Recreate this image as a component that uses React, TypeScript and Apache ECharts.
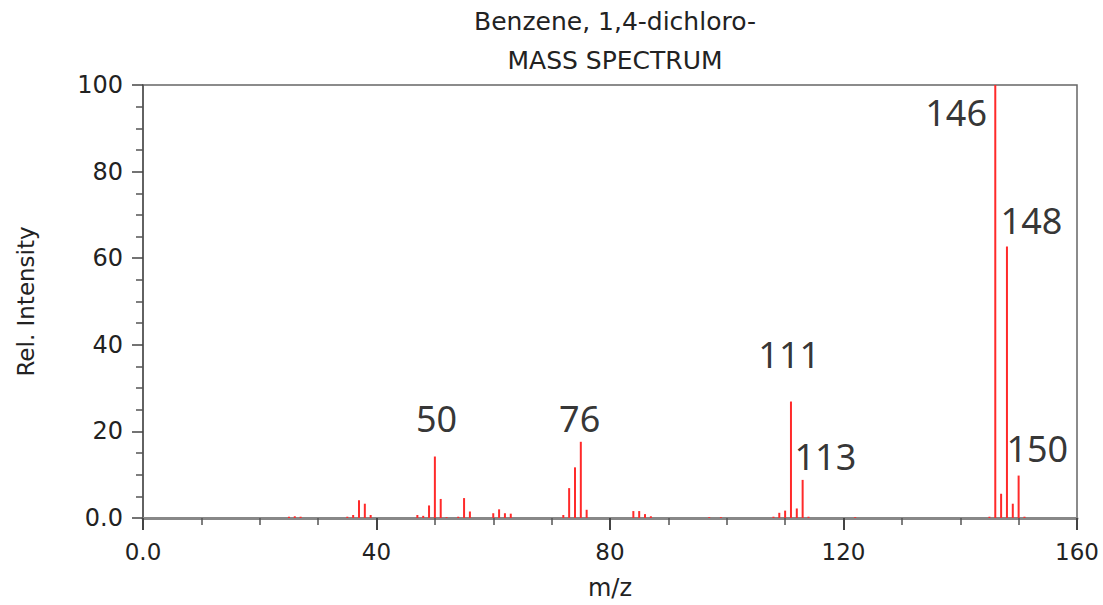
import React, { useEffect, useRef } from "react";
import * as echarts from "echarts";

const titleText = "Benzene, 1,4-dichloro-\nMASS SPECTRUM";
const xAxisName = "m/z";
const yAxisName = "Rel. Intensity";

const mzValues = [
  25, 26, 27,
  35, 36, 37, 38, 39,
  47, 48, 49, 50, 51, 52,
  54, 55, 56,
  60, 61, 62, 63,
  72, 73, 74, 75, 76,
  84, 85, 86, 87,
  97, 99,
  108, 109, 110, 111, 112, 113, 114,
  122,
  145, 146, 147, 148, 149, 150, 151,
];
const intensities = [
  0.3, 0.4, 0.3,
  0.3, 0.7, 4.1, 3.3, 0.7,
  0.7, 0.5, 2.9, 14.2, 4.4, 0.2,
  0.3, 4.6, 1.5,
  1.1, 2.0, 1.1, 1.0,
  0.7, 6.9, 11.7, 17.6, 1.9,
  1.6, 1.6, 0.9, 0.4,
  0.2, 0.2,
  0.3, 1.2, 1.7, 26.9, 2.2, 8.8, 0.3,
  0.2,
  0.3, 100, 5.6, 62.7, 3.3, 9.8, 0.3,
];

const peakLabels = ["146", "148", "111", "113", "50", "76", "150"];
const peakLabelMz = [139.3, 152.2, 110.7, 116.9, 50.3, 74.8, 153.2];
const peakLabelIntensity = [93.6, 68.7, 37.7, 14.2, 22.9, 22.9, 16.0];

const fmt = (v: number) => (v === 0 ? "0.0" : String(v));

export default function App() {
  const ref = useRef<HTMLDivElement>(null);
  useEffect(() => {
    if (!ref.current) return;
    const chart = echarts.init(ref.current, undefined, { renderer: "svg" });
    const axisFont = "DejaVu Sans";
    chart.setOption({
      animation: false,
      backgroundColor: "#ffffff",
      title: {
        text: titleText,
        left: 610,
        top: -3,
        textAlign: "center",
        textStyle: {
          fontFamily: axisFont,
          fontSize: 25,
          fontWeight: "normal",
          color: "#222",
          lineHeight: 39,
        },
      },
      grid: {
        left: 143,
        right: 26,
        top: 85,
        bottom: 83,
        show: true,
        borderColor: "#666",
        borderWidth: 1.5,
      },
      xAxis: {
        type: "value",
        min: 0,
        max: 160,
        interval: 40,
        name: xAxisName,
        nameLocation: "middle",
        nameGap: 58,
        nameTextStyle: { fontFamily: axisFont, fontSize: 24, color: "#222" },
        axisLine: { show: true, onZero: false, lineStyle: { color: "#888", width: 3 } },
        axisTick: { show: true, length: 12, lineStyle: { color: "#444", width: 2 } },
        minorTick: { show: true, splitNumber: 4, length: 7, lineStyle: { color: "#555", width: 1.5 } },
        splitLine: { show: false },
        axisLabel: {
          formatter: fmt,
          fontFamily: axisFont,
          fontSize: 23,
          color: "#222",
          margin: 22,
        },
      },
      yAxis: {
        type: "value",
        min: 0,
        max: 100,
        interval: 20,
        name: yAxisName,
        nameLocation: "middle",
        nameGap: 106,
        nameTextStyle: { fontFamily: axisFont, fontSize: 23, color: "#222" },
        axisLine: { show: true, lineStyle: { color: "#555", width: 1.5 } },
        axisTick: { show: true, length: 11, lineStyle: { color: "#444", width: 1.5 } },
        minorTick: { show: true, splitNumber: 4, length: 7, lineStyle: { color: "#555", width: 1.5 } },
        splitLine: { show: false },
        axisLabel: {
          formatter: fmt,
          fontFamily: axisFont,
          fontSize: 24,
          color: "#222",
          margin: 20,
        },
      },
      series: [
        {
          type: "bar",
          barWidth: 2,
          data: mzValues.map((m, i) => [m, intensities[i]]),
          itemStyle: { color: "#ff2a2a" },
          silent: true,
        },
        {
          type: "scatter",
          symbolSize: 0,
          silent: true,
          data: peakLabels.map((t, i) => ({
            name: t,
            value: [peakLabelMz[i], peakLabelIntensity[i]],
          })),
          label: {
            show: true,
            position: "inside",
            formatter: (p: any) => p.name,
            fontFamily: "Noto Sans",
            fontSize: 36,
            color: "#000",
            align: "center",
            verticalAlign: "middle",
          },
        },
      ],
    });
    return () => chart.dispose();
  }, []);
  return (
    <div
      ref={ref}
      style={{ position: "fixed", left: 0, top: 0, width: 1103, height: 605 }}
    />
  );
}
